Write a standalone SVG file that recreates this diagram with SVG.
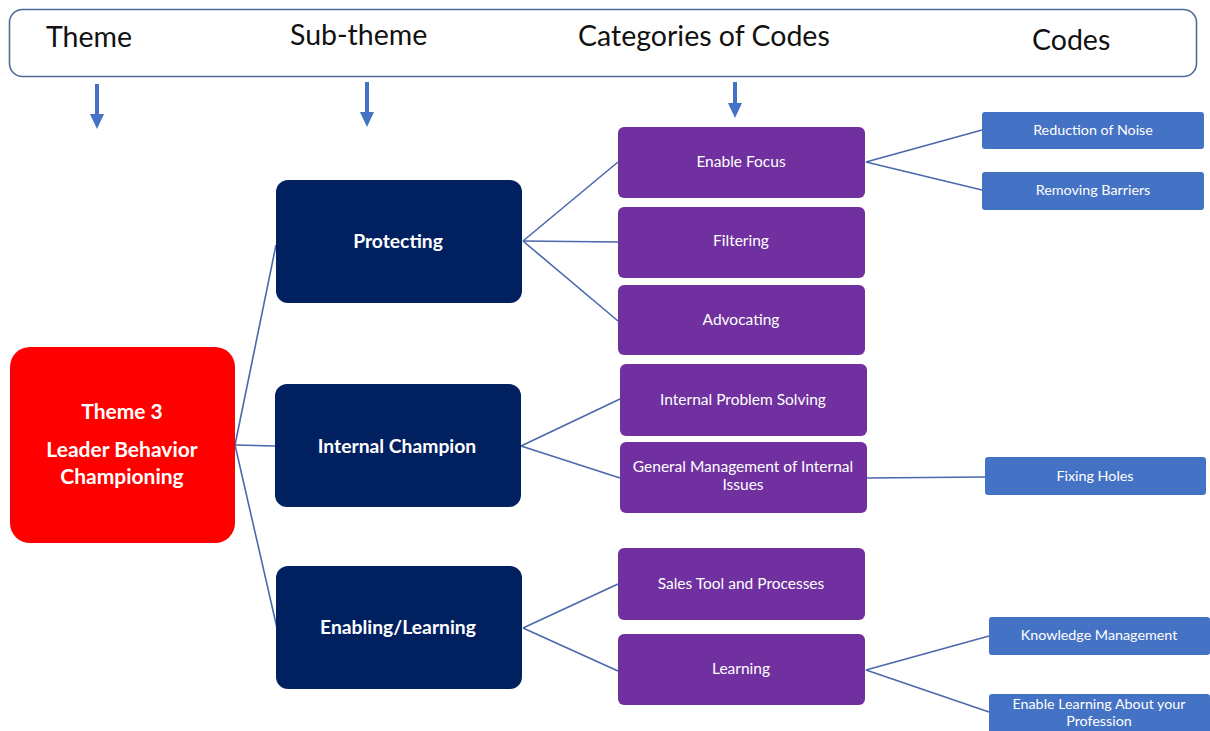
<svg xmlns="http://www.w3.org/2000/svg" width="1210" height="731" viewBox="0 0 1210 731">
<style>
.hdr{font-family:Lato,"Open Sans",sans-serif;font-size:28.5px;fill:#111}
.t{font-family:Lato,"Open Sans",sans-serif;fill:#fff;text-anchor:middle}
.big{font-size:21px;font-weight:bold}
.sub{font-size:19.3px;font-weight:bold}
.cat{font-size:15.5px}
.code{font-size:14.3px}
.navy{fill:#002060}
.purple{fill:#7030A0}
.blue{fill:#4472C4}
.conn line{stroke:#4a68aa;stroke-width:1.6}
.arr line{stroke:#4472C4;stroke-width:4}
.arr polygon{fill:#4472C4}
</style>
<rect width="1210" height="731" fill="#fff"/>
<g id="header">
<rect x="9.5" y="9.5" width="1187" height="67" rx="13" fill="#fff" stroke="#4f6b96" stroke-width="1.6"/>
<text class="hdr" x="46" y="47">Theme</text>
<text class="hdr" x="290" y="45">Sub-theme</text>
<text class="hdr" x="578" y="46">Categories of Codes</text>
<text class="hdr" x="1032" y="50">Codes</text>
</g>
<g class="arr" id="arrows">
<line x1="97" y1="84" x2="97" y2="116"/><polygon points="90,114 104,114 97,129"/>
<line x1="367" y1="82" x2="367" y2="114"/><polygon points="360,112 374,112 367,127"/>
<line x1="735" y1="82" x2="735" y2="105"/><polygon points="728,103 742,103 735,118"/>
</g>
<g class="conn" id="connectors">
<line x1="235" y1="445" x2="276" y2="245"/>
<line x1="235" y1="445" x2="276" y2="446"/>
<line x1="235" y1="445" x2="277" y2="628"/>
<line x1="523" y1="241" x2="618" y2="162"/>
<line x1="523" y1="241" x2="618" y2="242"/>
<line x1="523" y1="241" x2="618" y2="321"/>
<line x1="521" y1="446" x2="620" y2="399"/>
<line x1="521" y1="446" x2="620" y2="478"/>
<line x1="523" y1="628" x2="618" y2="584"/>
<line x1="523" y1="628" x2="618" y2="671"/>
<line x1="866" y1="162" x2="982" y2="130"/>
<line x1="866" y1="162" x2="982" y2="190"/>
<line x1="867" y1="478" x2="985" y2="477"/>
<line x1="866" y1="670" x2="989" y2="636"/>
<line x1="866" y1="670" x2="989" y2="712"/>
</g>
<g id="theme3">
<rect x="10" y="347" width="225" height="196" rx="20" fill="#ff0000"/>
<text class="t big" x="122" y="419">Theme 3</text>
<text class="t big" x="122" y="457">Leader Behavior</text>
<text class="t big" x="122" y="484">Championing</text>
</g>
<g id="protecting"><rect class="navy" x="276" y="180" width="246" height="123" rx="12"/><text class="t sub" x="398" y="248">Protecting</text></g>
<g id="internal-champion"><rect class="navy" x="275" y="384" width="246" height="123" rx="12"/><text class="t sub" x="397" y="453">Internal Champion</text></g>
<g id="enabling-learning"><rect class="navy" x="276" y="566" width="246" height="123" rx="12"/><text class="t sub" x="398" y="634">Enabling/Learning</text></g>
<g id="enable-focus"><rect class="purple" x="618" y="127" width="247" height="71" rx="6"/><text class="t cat" x="741" y="167">Enable Focus</text></g>
<g id="filtering"><rect class="purple" x="618" y="207" width="247" height="71" rx="6"/><text class="t cat" x="741" y="246">Filtering</text></g>
<g id="advocating"><rect class="purple" x="618" y="285" width="247" height="70" rx="6"/><text class="t cat" x="741" y="325">Advocating</text></g>
<g id="internal-problem-solving"><rect class="purple" x="620" y="364" width="247" height="72" rx="6"/><text class="t cat" x="743" y="405">Internal Problem Solving</text></g>
<g id="general-management"><rect class="purple" x="620" y="442" width="247" height="71" rx="6"/><text class="t cat" x="743" y="472">General Management of Internal</text><text class="t cat" x="743" y="490">Issues</text></g>
<g id="sales-tool"><rect class="purple" x="618" y="548" width="247" height="72" rx="6"/><text class="t cat" x="741" y="589">Sales Tool and Processes</text></g>
<g id="learning"><rect class="purple" x="618" y="634" width="247" height="71" rx="6"/><text class="t cat" x="741" y="674">Learning</text></g>
<g id="reduction-of-noise"><rect class="blue" x="982" y="112" width="222" height="37" rx="3"/><text class="t code" x="1093" y="135">Reduction of Noise</text></g>
<g id="removing-barriers"><rect class="blue" x="982" y="172" width="222" height="38" rx="3"/><text class="t code" x="1093" y="195">Removing Barriers</text></g>
<g id="fixing-holes"><rect class="blue" x="985" y="457" width="221" height="38" rx="3"/><text class="t code" x="1095" y="481">Fixing Holes</text></g>
<g id="knowledge-management"><rect class="blue" x="989" y="617" width="221" height="38" rx="3"/><text class="t code" x="1099" y="640">Knowledge Management</text></g>
<g id="enable-learning"><rect class="blue" x="989" y="694" width="221" height="40" rx="3"/><text class="t code" x="1099" y="709">Enable Learning About your</text><text class="t code" x="1099" y="726">Profession</text></g>
</svg>
